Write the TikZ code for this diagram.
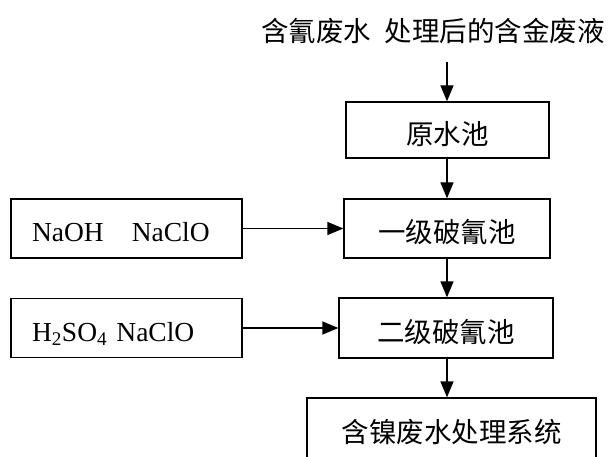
\documentclass[tikz,border=0pt]{standalone}
\usepackage{fontspec}
\setmainfont{Liberation Serif}
\newfontfamily\cjk{Noto Sans CJK SC}
\usetikzlibrary{arrows.meta}
\begin{document}
\begin{tikzpicture}[x=1pt,y=-1pt,
  flow/.style={line width=1.3pt,-{Triangle[length=16pt,width=13pt]}},
  pool/.style={draw,line width=1.3pt,inner sep=0pt,font=\cjk\fontsize{27.5}{33}\selectfont,
    text height=29pt,text depth=0.6pt},
  chem/.style={draw,line width=1.3pt,inner ysep=0pt,inner xsep=21pt,text width=189pt,align=left,
    minimum width=231pt,minimum height=59pt,font=\fontsize{27.5}{33}\selectfont,
    text height=26.5pt,text depth=0.3pt},
  title/.style={inner sep=0pt,font=\cjk\fontsize{27.5}{33}\selectfont}]
\useasboundingbox (0,0) rectangle (613,457);
\clip (0,0) rectangle (613,457);
\node[title] (src) at (433,30.5) {含氰废水\enspace 处理后的含金废液};
\coordinate (srcend) at (447,62);
\node[pool,minimum width=203pt,minimum height=56pt] (raw) at (447.5,130) {原水池};
\node[pool,minimum width=206pt,minimum height=59pt] (one) at (447,228.5) {一级破氰池};
\node[pool,minimum width=214pt,minimum height=60pt] (two) at (446,328) {二级破氰池};
\node[pool,minimum width=289pt,minimum height=61pt] (ni) at (451.5,428.5) {含镍废水处理系统};
\node[chem] (naoh) at (126.5,228.5) {NaOH\hspace{28pt}NaClO};
\node[chem] (acid) at (126.5,328) {H\textsubscript{2}SO\textsubscript{4} NaClO};
\draw[flow] (srcend) -- (srcend |- raw.north);
\draw[flow] (srcend |- raw.south) -- (srcend |- one.north);
\draw[flow] (srcend |- one.south) -- (srcend |- two.north);
\draw[flow] (srcend |- two.south) -- (srcend |- ni.north);
\draw[flow] (naoh.east) -- (one.west);
\draw[flow] (acid.east) -- (two.west);
\end{tikzpicture}
\end{document}
